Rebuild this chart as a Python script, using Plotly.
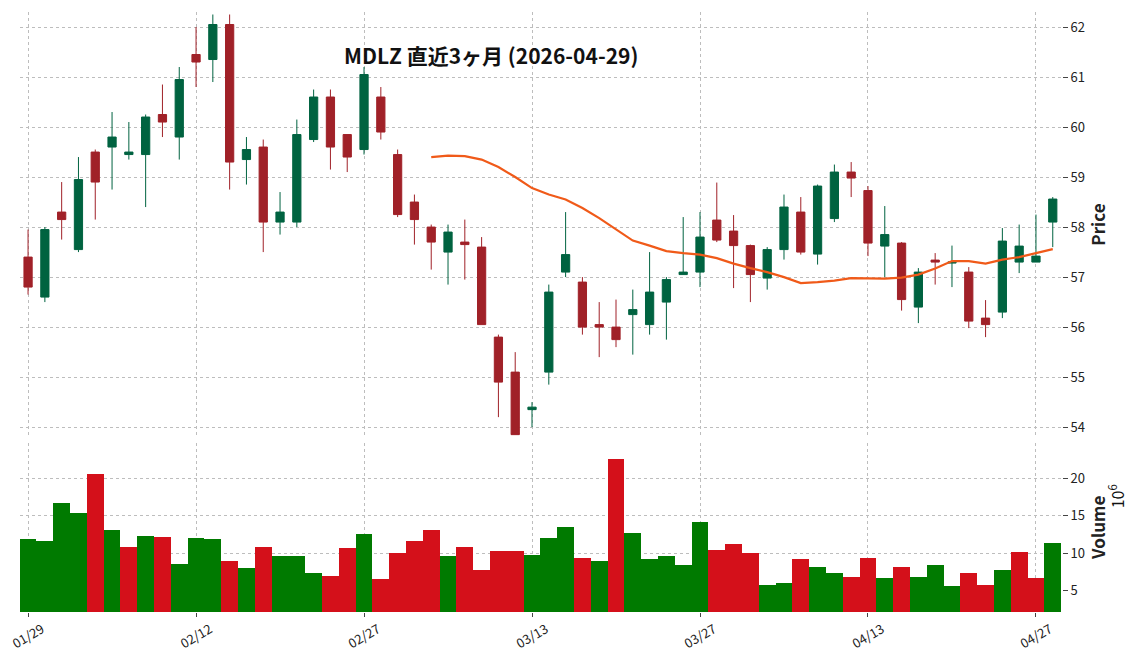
import pandas as pd
import plotly.graph_objects as go
from plotly.subplots import make_subplots

# ==========================================================
# Data
# ==========================================================

dates = pd.bdate_range("2026-01-29", "2026-04-28")
dates = [d for d in dates if d.strftime("%m-%d") not in ("02-16", "04-03")]
date_labels = [d.strftime("%m/%d") for d in dates]

opens = [57.4, 56.6, 58.3, 57.55, 59.5, 59.6, 59.45, 59.45, 60.25, 59.8,
         61.45, 61.35, 62.05, 59.35, 59.6, 58.1, 58.1, 59.75, 60.6, 59.85,
         59.55, 60.6, 59.45, 58.5, 58.0, 57.5, 57.7, 57.6, 55.8, 55.1,
         54.35, 55.1, 57.1, 56.9, 56.05, 56.0, 56.25, 56.05, 56.5, 57.05,
         57.1, 58.14, 57.92, 57.63, 56.98, 57.55, 58.3, 57.46, 58.17, 59.1,
         58.73, 57.62, 57.68, 56.4, 57.34, 57.28, 57.1, 56.18, 56.3, 57.3,
         57.3, 58.1]
closes = [56.8, 57.95, 58.15, 58.95, 58.9, 59.8, 59.5, 60.2, 60.1, 60.95,
          61.3, 62.05, 59.3, 59.55, 58.1, 58.3, 59.85, 60.6, 59.6, 59.4,
          61.05, 59.9, 58.25, 58.15, 57.7, 57.9, 57.65, 56.05, 54.9, 53.85,
          54.4, 56.7, 57.45, 56.0, 56.0, 55.75, 56.35, 56.7, 56.95, 57.1,
          57.8, 57.74, 57.63, 57.05, 57.55, 58.4, 57.5, 58.82, 59.1, 58.98,
          57.68, 57.85, 56.55, 57.1, 57.3, 57.3, 56.12, 56.05, 57.72, 57.62,
          57.42, 58.56]
highs = [57.95, 58.0, 58.9, 59.4, 59.55, 60.3, 60.1, 60.25, 60.85, 61.2,
         62.0, 62.25, 62.25, 59.8, 59.75, 58.7, 60.15, 60.75, 60.75, 59.85,
         61.2, 60.8, 59.55, 58.65, 58.05, 58.05, 58.15, 57.8, 55.85, 55.5,
         54.5, 56.85, 58.3, 57.0, 56.5, 56.55, 56.75, 57.5, 57.0, 58.2,
         58.3, 58.89, 58.24, 57.65, 57.6, 58.65, 58.6, 58.85, 59.25, 59.3,
         58.82, 58.42, 57.7, 57.18, 57.48, 57.63, 57.2, 56.54, 57.98, 58.05,
         58.25, 58.6]
lows = [56.65, 56.5, 57.75, 57.5, 58.15, 58.75, 59.35, 58.4, 59.8, 59.35,
        60.8, 60.9, 58.75, 58.85, 57.5, 57.85, 58.0, 59.7, 59.15, 59.1,
        59.45, 59.75, 58.2, 57.65, 57.15, 56.85, 56.95, 56.05, 54.2, 53.85,
        54.0, 54.85, 57.0, 55.85, 55.4, 55.6, 55.45, 55.85, 55.75, 57.05,
        56.8, 57.7, 56.78, 56.5, 56.75, 57.35, 57.45, 57.25, 58.1, 58.6,
        57.42, 57.0, 56.33, 56.08, 56.85, 56.8, 55.98, 55.8, 56.18, 57.08,
        57.3, 57.6]

# 25-day moving average (starts at the 25th session)
ma25 = [None] * 24 + [
    59.4, 59.43, 59.42, 59.35, 59.2, 59.0, 58.78, 58.65, 58.55, 58.38,
    58.18, 57.95, 57.73, 57.63, 57.52, 57.48, 57.45, 57.38, 57.27, 57.18,
    57.1, 57.0, 56.88, 56.9, 56.93, 56.98, 56.97, 56.97, 56.99, 57.05,
    57.17, 57.32, 57.32, 57.27, 57.35, 57.4, 57.48, 57.56]

# volume in millions
volumes = [12.0, 11.7, 16.7, 15.4, 20.7, 13.2, 10.9, 12.4, 12.2, 8.6,
           12.1, 12.0, 9.0, 8.0, 10.9, 9.6, 9.6, 7.4, 7.0, 10.8,
           12.6, 6.6, 10.1, 11.7, 13.2, 9.7, 10.9, 7.8, 10.4, 10.4,
           9.8, 12.1, 13.6, 9.4, 9.0, 22.7, 12.8, 9.2, 9.6, 8.5,
           14.2, 10.5, 11.3, 10.1, 5.8, 6.1, 9.2, 8.2, 7.4, 6.9,
           9.4, 6.7, 8.2, 6.9, 8.4, 5.7, 7.4, 5.8, 7.8, 10.2,
           6.7, 11.4]
vol_up = "GGGGRGRGRGGGRGRGGGRRGRRRRGRRRRGGGRGRGGGGGRRRGGRGGRRGRGGGRRGRRG"

x = list(range(len(opens)))
vol_colors = ["#007a00" if c == "G" else "#d4101a" for c in vol_up]

# ==========================================================
# Figure
# ==========================================================

fig = make_subplots(rows=2, cols=1, shared_xaxes=True,
                    row_heights=[0.715, 0.285], vertical_spacing=0.009)

fig.add_trace(go.Candlestick(
    x=x, open=opens, high=highs, low=lows, close=closes,
    increasing=dict(line=dict(color="#006340", width=1), fillcolor="#006340"),
    decreasing=dict(line=dict(color="#a02128", width=1), fillcolor="#a02128"),
    whiskerwidth=0, showlegend=False), row=1, col=1)

fig.add_trace(go.Scatter(x=x, y=ma25, mode="lines",
                         line=dict(color="#f05a19", width=2.2),
                         showlegend=False), row=1, col=1)

fig.add_trace(go.Bar(x=x, y=volumes, marker_color=vol_colors,
                     marker_line_width=0, width=1.0, showlegend=False),
              row=2, col=1)

grid = dict(showgrid=True, gridcolor="#bdbdbd", griddash="dot", gridwidth=0.7)
font = dict(family="Noto Sans CJK JP, DejaVu Sans", size=13, color="#222")

fig.update_xaxes(range=[-0.48, 61.55], rangeslider_visible=False,
                 tickvals=x[::10], ticktext=date_labels[::10],
                 showline=False, zeroline=False, automargin=False, **grid)
fig.update_xaxes(tickangle=-30, ticks="outside", ticklen=4,
                 ticklabelshift=14, row=2, col=1)

fig.update_yaxes(side="right", range=[53.8, 62.3], dtick=1, ticks="outside",
                 ticklen=5, zeroline=False, automargin=False,
                 title=dict(text="<b>Price</b>", font=dict(size=17), standoff=6),
                 **grid, row=1, col=1)
fig.update_yaxes(side="right", range=[2.1, 24.8], tickvals=[5, 10, 15, 20],
                 ticks="outside", ticklen=5, zeroline=False, automargin=False,
                 title=dict(text="<b>Volume</b>", font=dict(size=17), standoff=6),
                 **grid, row=2, col=1)

fig.add_annotation(text="<b>MDLZ 直近3ヶ月 (2026-04-29)</b>", xref="paper",
                   yref="paper", x=0.452, y=0.957, showarrow=False,
                   font=dict(family="Noto Sans CJK JP", size=21, color="#111"))
fig.add_annotation(text="10<sup>6</sup>", xref="paper", yref="paper",
                   x=1.066, y=0.17, textangle=-90, showarrow=False,
                   font=dict(size=16, color="#111"))

fig.update_layout(
    width=1144, height=670,
    margin=dict(l=12, r=90, t=4, b=66),
    plot_bgcolor="white", paper_bgcolor="white",
    font=font, bargap=0,
)

fig.write_html("out.html")
